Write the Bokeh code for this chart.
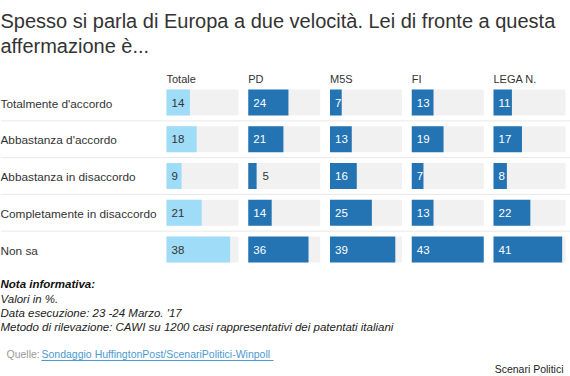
from bokeh.plotting import figure
from bokeh.models import ColumnDataSource, Range1d
from bokeh.core.properties import value
from bokeh.embed import file_html
from bokeh.resources import INLINE

# ---- data ----
categories = ["Totalmente d'accordo", "Abbastanza d'accordo", "Abbastanza in disaccordo",
              "Completamente in disaccordo", "Non sa"]
groups = ["Totale", "PD", "M5S", "FI", "LEGA N."]
totale = [14, 18, 9, 21, 38]
pd_vals = [24, 21, 5, 14, 36]
m5s = [7, 13, 16, 25, 39]
fi = [13, 19, 7, 13, 43]
lega = [11, 17, 8, 22, 41]
series = [totale, pd_vals, m5s, fi, lega]

title_lines = ["Spesso si parla di Europa a due velocità. Lei di fronte a questa",
               "affermazione è..."]
notes = ["Valori in %.", "Data esecuzione: 23 -24  Marzo. '17",
         "Metodo di rilevazione: CAWI su 1200 casi rappresentativi dei patentati italiani"]

# ---- layout ----
W, H = 570, 376
FONT = value("Liberation Sans")
col_x0 = 166
col_step = 81.75
col_w = 72
row_y0 = 102
row_step = 36.75
bar_h = 26
vmax = max(max(s) for s in series)
scale = col_w / vmax

p = figure(width=W, height=H, x_range=Range1d(0, W), y_range=Range1d(H, 0),
           output_backend="svg", toolbar_location=None, min_border=0)
p.axis.visible = False
p.grid.visible = False
p.outline_line_color = None
p.background_fill_color = "white"

# separators
sep_y = [row_y0 + (j + 0.5) * row_step for j in range(len(categories) - 1)]
p.segment(x0=[0] * len(sep_y), x1=[W] * len(sep_y), y0=sep_y, y1=sep_y,
          line_color="#e8e8e8", line_width=1)

# background, bars, labels
bg = dict(y=[], left=[], right=[])
bars = dict(y=[], left=[], right=[], color=[])
labs = dict(x=[], y=[], t=[], c=[])
for i, s in enumerate(series):
    x0 = col_x0 + i * col_step
    for j, v in enumerate(s):
        y = row_y0 + j * row_step
        bg["y"].append(y); bg["left"].append(x0); bg["right"].append(x0 + col_w)
        bars["y"].append(y); bars["left"].append(x0); bars["right"].append(x0 + v * scale)
        bars["color"].append("#9fdcf8" if i == 0 else "#2474b4")
        if v < 6:
            labs["x"].append(x0 + v * scale + 6); labs["c"].append("#333333")
        else:
            labs["x"].append(x0 + 5); labs["c"].append("#333333" if i == 0 else "white")
        labs["y"].append(y); labs["t"].append(str(v))

p.hbar(y="y", left="left", right="right", height=bar_h, source=ColumnDataSource(bg),
       fill_color="#f1f1f1", line_color=None)
p.hbar(y="y", left="left", right="right", height=bar_h, source=ColumnDataSource(bars),
       fill_color="color", line_color=None)
p.text(x="x", y="y", text="t", text_color="c", source=ColumnDataSource(labs),
       text_font=FONT, text_font_size="11.5px", text_baseline="middle")

# headers
p.text(x=[col_x0 + i * col_step for i in range(len(groups))], y=[78] * len(groups),
       text=groups, text_font=FONT, text_font_size="11px", text_color="#333333",
       text_baseline="middle")

# row labels
p.text(x=[0] * len(categories), y=[row_y0 + j * row_step + 1 for j in range(len(categories))],
       text=categories, text_font=FONT, text_font_size="11.8px", text_color="#333333",
       text_baseline="middle")

# title
p.text(x=[0, 0], y=[20, 45], text=title_lines, text_font=FONT, text_font_size="20px",
       text_color="#333333", text_baseline="alphabetic")

# notes
p.text(x=[0], y=[283], text=["Nota informativa:"], text_font=FONT, text_font_size="11.5px",
       text_font_style="bold italic", text_color="#111111", text_baseline="middle")
p.text(x=[0] * 3, y=[298, 312, 326], text=notes, text_font=FONT, text_font_size="11.5px",
       text_font_style="italic", text_color="#222222", text_baseline="middle")

# source
p.text(x=[6], y=[353], text=["Quelle:"], text_font=FONT, text_font_size="10.5px",
       text_color="#999999", text_baseline="middle")
p.text(x=[41], y=[353], text=["Sondaggio HuffingtonPost/ScenariPolitici-Winpoll"],
       text_font=FONT, text_font_size="10.5px", text_color="#4a9ad0", text_baseline="middle")
p.segment(x0=[41], x1=[273], y0=[360], y1=[360], line_color="#4a9ad0", line_width=1)

p.text(x=[563], y=[368], text=["Scenari Politici"], text_font=FONT, text_font_size="10.5px",
       text_color="#222222", text_baseline="middle", text_align="right")

open("out.html", "w").write(file_html(p, INLINE))
